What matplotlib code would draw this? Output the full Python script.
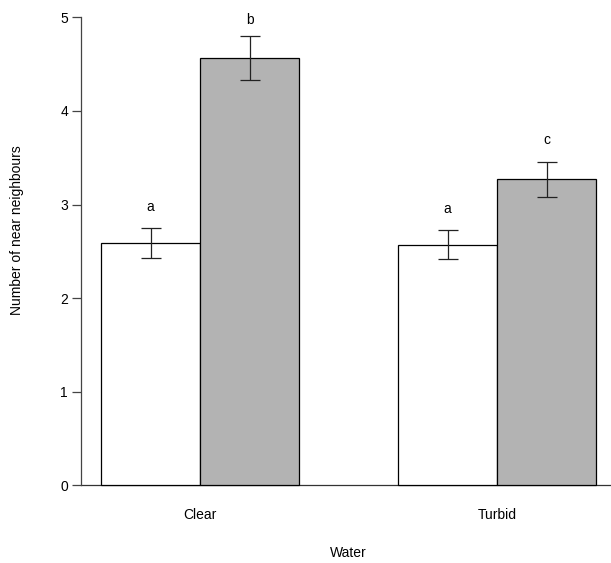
import matplotlib
matplotlib.use('Agg')
import matplotlib.pyplot as plt
import numpy as np

plt.rcParams['font.family'] = ['Liberation Sans', 'DejaVu Sans']
plt.rcParams['font.size'] = 10

water = ['Clear', 'Turbid']
white_means = [2.59, 2.57]
white_se = [0.155, 0.155]
grey_means = [4.57, 3.27]
grey_se = [0.235, 0.185]
white_letters = ['a', 'a']
grey_letters = ['b', 'c']

fig = plt.figure(figsize=(6.11, 5.63), dpi=100)
ax = fig.add_axes([0.1329, 0.1044, 0.875, 0.898])

# R style barplot positions: bars of width 1, one bar gap between groups
width = 1.0
group_left = np.arange(len(water)) * 3 + 1
x_white = group_left + width / 2
x_grey = group_left + 1.5 * width

ax.bar(x_white, white_means, width, color='white', edgecolor='black', linewidth=0.9, zorder=2)
ax.bar(x_grey, grey_means, width, color='#b3b3b3', edgecolor='black', linewidth=0.9, zorder=2)

err_style = dict(fmt='none', ecolor='#222222', elinewidth=0.9, capsize=7, capthick=0.9, zorder=3)
ax.errorbar(x_white, white_means, yerr=white_se, **err_style)
ax.errorbar(x_grey, grey_means, yerr=grey_se, **err_style)

# significance letters sit a little above the error bars (kept under the top tick)
offset = 0.23
for x, m, s, t in zip(x_white, white_means, white_se, white_letters):
    ax.text(x, min(m + s + offset, 4.97), t, ha='center', va='center')
for x, m, s, t in zip(x_grey, grey_means, grey_se, grey_letters):
    ax.text(x, min(m + s + offset, 4.97), t, ha='center', va='center')

ax.axhline(0, color='#333333', linewidth=0.9, zorder=1)

ax.set_xlim(0.8, 6.2)
ax.set_ylim(-0.2, 5.2)

for side in ['top', 'right', 'bottom']:
    ax.spines[side].set_visible(False)
ax.spines['left'].set_bounds(0, 5)
ax.spines['left'].set_color('#444444')
ax.spines['left'].set_linewidth(0.9)

ax.set_yticks(np.arange(0, 6))
ax.tick_params(axis='y', length=6.5, width=0.9, color='#444444', pad=3)
ax.set_xticks(group_left + width)
ax.set_xticklabels(water)
ax.tick_params(axis='x', length=0, pad=3)

ax.set_xlabel('Water')
ax.xaxis.set_label_coords(0.5, -0.083)
ax.set_ylabel('Number of near neighbours')
ax.yaxis.set_label_coords(-0.107, 0.543)

fig.savefig('out.png', dpi=100)
